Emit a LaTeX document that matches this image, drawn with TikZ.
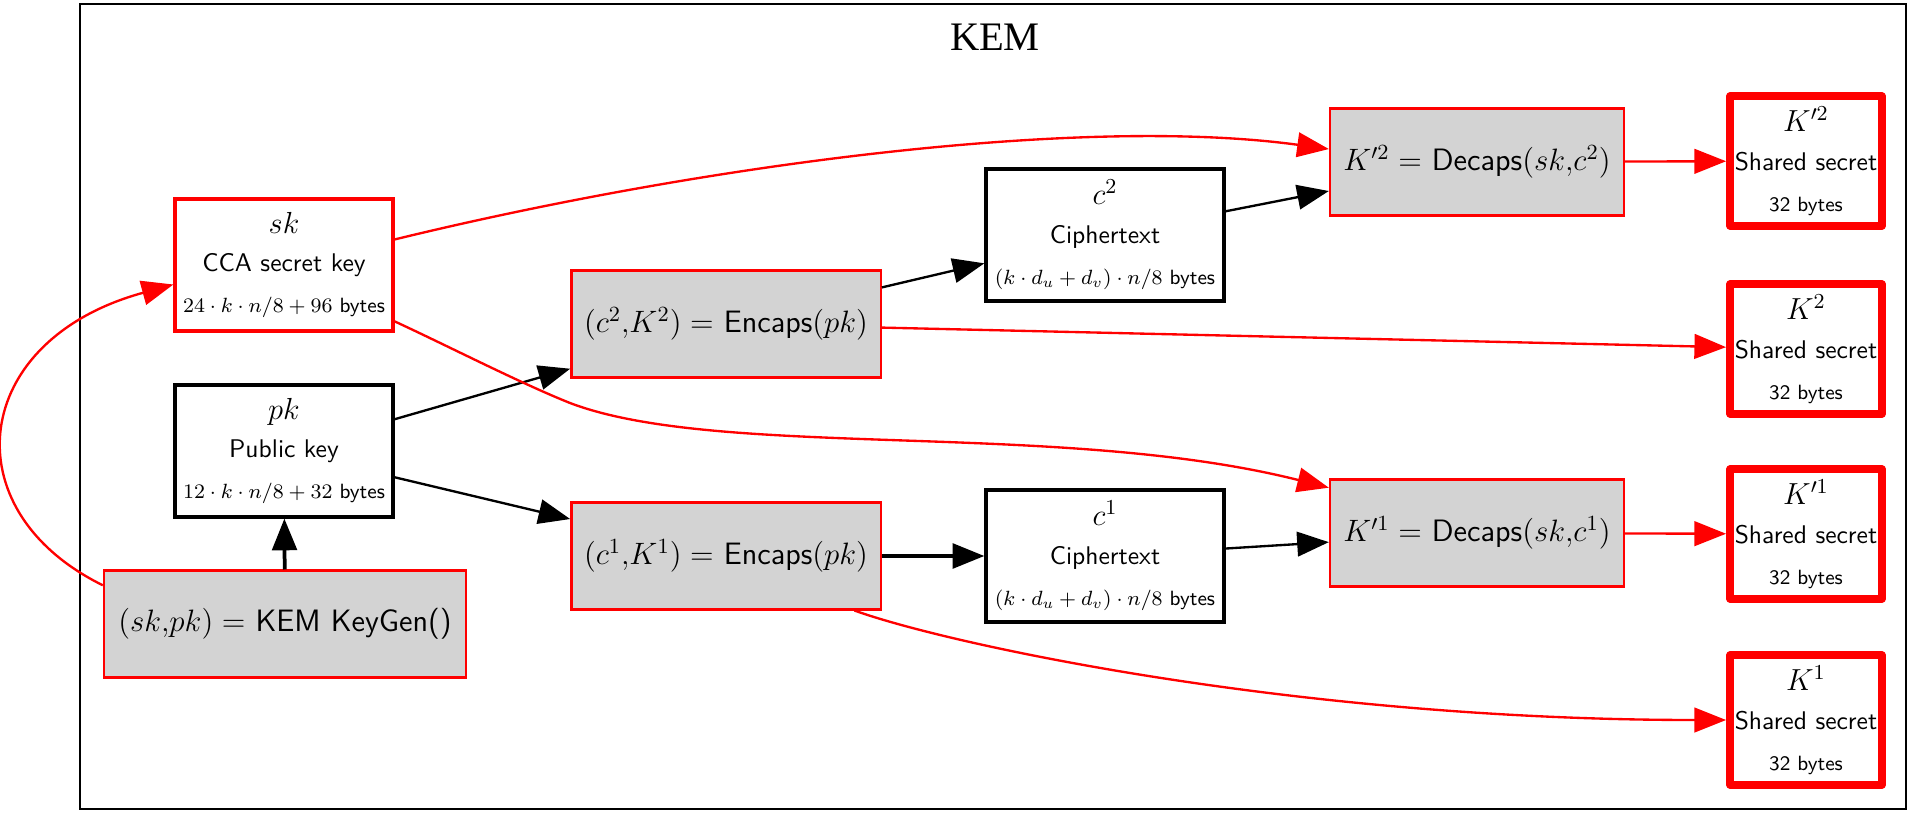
\documentclass[tikz,border=0pt]{standalone}
\usepackage{fix-cm}
\usepackage{xcolor}
\usepackage{amsmath}
\usepackage{fontspec}
\usepackage{tikz}
\usetikzlibrary{arrows.meta}
\newfontfamily\titlefont{Liberation Serif}
\definecolor{opgray}{RGB}{211,211,211}
\newcommand{\headsize}{\fontsize{13}{15}\selectfont}
\newcommand{\bytesize}{\fontsize{8.8}{10.5}\selectfont}

\begin{document}
\begin{tikzpicture}[x=.015cm, y=-.015cm,
  box/.style={rectangle, draw=black, line width=1.4pt, fill=white, align=center, font=\sffamily\fontsize{10.9}{13}\selectfont, inner sep=2pt},
  keybox/.style={box, minimum width=3.27cm, minimum height=1.98cm},
  ctbox/.style={box, minimum width=3.57cm, minimum height=1.98cm},
  opbox/.style={rectangle, draw=red, line width=1pt, fill=opgray, font=\sffamily\fontsize{13.2}{16}\selectfont, inner sep=2pt, minimum height=1.6cm},
  outbox/.style={box, draw=red, line width=3.4pt, line join=round, minimum width=2.2cm, minimum height=1.94cm},
  edge/.style={-{Triangle[length=13.5pt,width=10.5pt]}, line width=1pt, draw=black},
  redge/.style={edge, draw=red}]
\useasboundingbox (0, 0) rectangle (1921, 815);
\draw [line width=1.2pt] (80, 4) rectangle (1906, 809);
\node (title) at (995, 37) {\titlefont\LARGE KEM};

% keys
\node [keybox, draw=red] (sk) at (284, 265) {{\headsize $sk$}\\[3.5pt] CCA secret key\\[4.5pt] {\bytesize $24\cdot k\cdot n/8+96$ bytes}};
\node [keybox] (pk) at (284, 451) {{\headsize $pk$}\\[3.5pt] Public key\\[4.5pt] {\bytesize $12\cdot k\cdot n/8+32$ bytes}};
\node [opbox, minimum width=5.43cm] (keygen) at (285, 624) {$(sk{,}pk) =$ KEM KeyGen()};

% encapsulation
\node [opbox, minimum width=4.64cm] (encaps2) at (726, 324) {$(c^2{,}K^2) =$ Encaps$(pk)$};
\node [opbox, minimum width=4.64cm] (encaps1) at (726, 556) {$(c^1{,}K^1) =$ Encaps$(pk)$};
\node [ctbox] (c2) at (1105, 235) {{\headsize $c^2$}\\[3.5pt] Ciphertext\\[4.5pt] {\bytesize $(k\cdot d_u+d_v)\cdot n/8$ bytes}};
\node [ctbox] (c1) at (1105, 556) {{\headsize $c^1$}\\[3.5pt] Ciphertext\\[4.5pt] {\bytesize $(k\cdot d_u+d_v)\cdot n/8$ bytes}};

% decapsulation
\node [opbox, minimum width=4.41cm] (decaps2) at (1477, 162) {$K'^2 =$ Decaps$(sk{,}c^2)$};
\node [opbox, minimum width=4.41cm] (decaps1) at (1477, 533) {$K'^1 =$ Decaps$(sk{,}c^1)$};

% shared secrets
\node [outbox] (kp2) at (1806, 161) {{\headsize $K'^2$}\\[3.5pt] Shared secret\\[4.5pt] {\bytesize 32 bytes}};
\node [outbox] (k2) at (1806, 349) {{\headsize $K^2$}\\[3.5pt] Shared secret\\[4.5pt] {\bytesize 32 bytes}};
\node [outbox] (kp1) at (1806, 534) {{\headsize $K'^1$}\\[3.5pt] Shared secret\\[4.5pt] {\bytesize 32 bytes}};
\node [outbox] (k1) at (1806, 720) {{\headsize $K^1$}\\[3.5pt] Shared secret\\[4.5pt] {\bytesize 32 bytes}};

\draw [edge, line width=1.6pt] (keygen) -- (pk);
\draw [redge] (keygen.168) .. controls (-50, 510) and (-30, 340) .. (sk.190);
\draw [edge] (pk) -- (encaps2);
\draw [edge] (pk) -- (encaps1);
\draw [redge] (sk.13) .. controls (700, 165) and (1080, 115) .. (decaps2.175);
\draw [redge] (sk.333) .. controls (450, 347) and (520, 383) .. (570, 403) .. controls (720, 460) and (1060, 420) .. (decaps1.163);
\draw [edge] (encaps2) -- (c2);
\draw [redge] (encaps2) -- (k2);
\draw [edge, line width=1.6pt] (encaps1) -- (c1);
\draw [redge] (encaps1.337) .. controls (950, 645) and (1300, 720) .. (k1);
\draw [edge] (c2) -- (decaps2);
\draw [edge] (c1) -- (decaps1);
\draw [redge] (decaps2) -- (kp2);
\draw [redge] (decaps1) -- (kp1);
\end{tikzpicture}
\end{document}
